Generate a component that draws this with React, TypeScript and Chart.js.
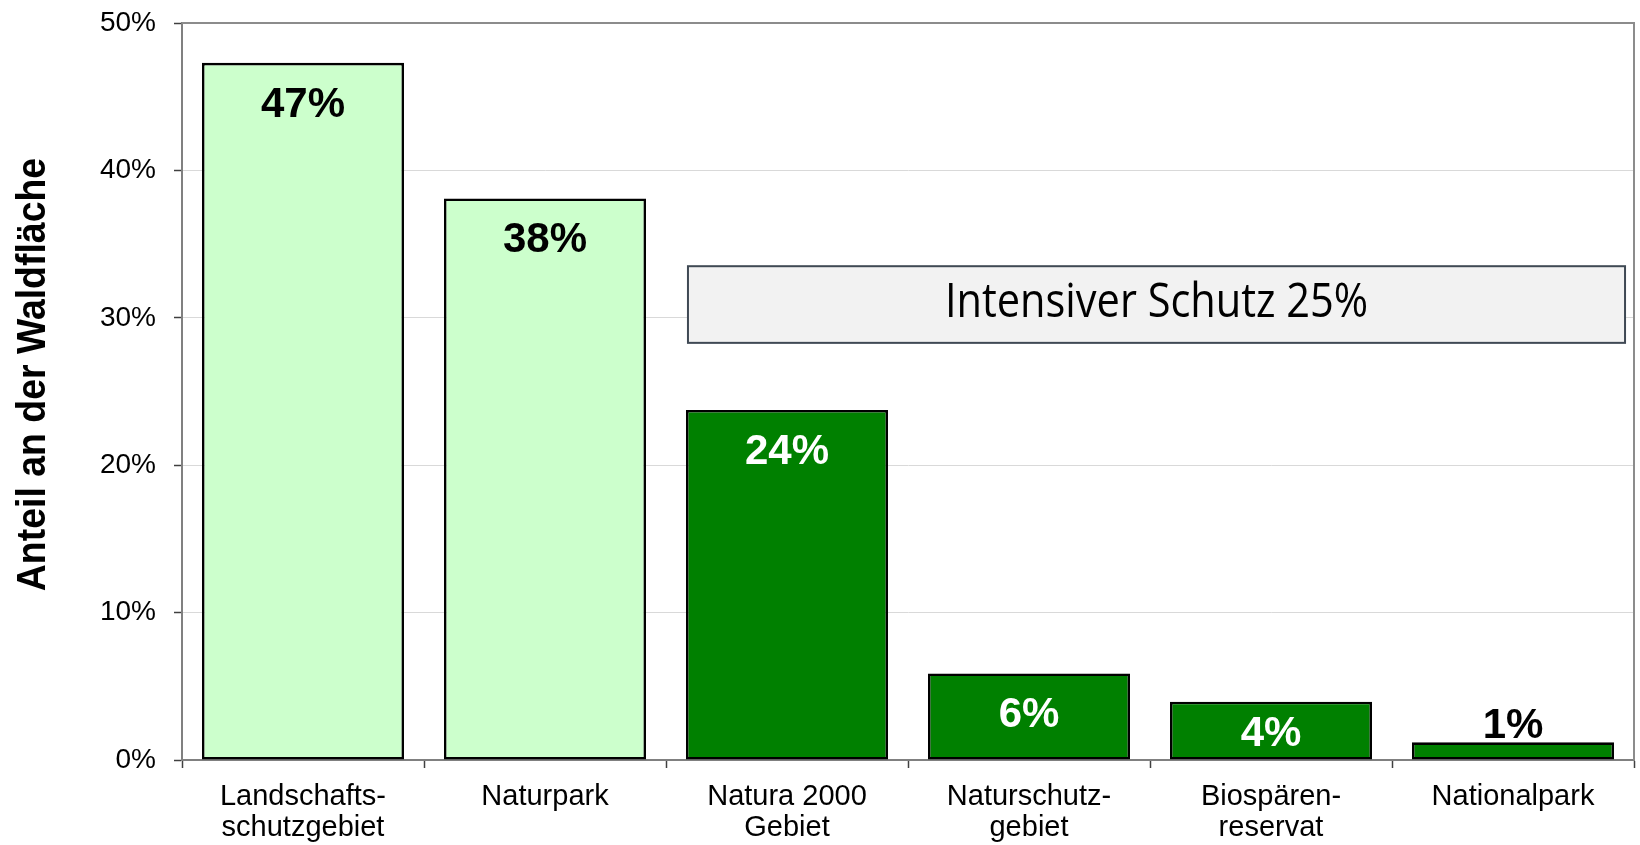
import React, { useEffect, useRef } from "react";
import { Chart, registerables } from "chart.js";

Chart.register(...registerables);

// ---- data ----
const categories: (string | string[])[] = [
  ["Landschafts-", "schutzgebiet"],
  "Naturpark",
  ["Natura 2000", "Gebiet"],
  ["Naturschutz-", "gebiet"],
  ["Biospären-", "reservat"],
  "Nationalpark",
];
const shares: number[] = [47.3, 38.1, 23.75, 5.87, 3.96, 1.2];
const yTicks: number[] = [0, 10, 20, 30, 40, 50];
const yTitle = "Anteil an der Waldfläche";
const boxLabel = "Intensiver Schutz 25%";
// annotation box: spans from category index 2 to the last, between these values
const boxFromIndex = 2;
const boxTopValue = 33.5;
const boxBottomValue = 28.3;

// ---- styles ----
const LIGHT = "#CCFFCC";
const DARK = "#008000";
const barColors = [LIGHT, LIGHT, DARK, DARK, DARK, DARK];
const labelColors = ["#000000", "#000000", "#FFFFFF", "#FFFFFF", "#FFFFFF", "#000000"];
const FONT = "'Liberation Sans', Arial, Helvetica, sans-serif";

const W = 1640;
const H = 845;

const barLabelPlugin = {
  id: "barLabels",
  afterDatasetsDraw(chart: any) {
    const ctx = chart.ctx;
    const meta = chart.getDatasetMeta(0);
    ctx.save();
    ctx.font = `bold 42px ${FONT}`;
    ctx.textAlign = "center";
    ctx.textBaseline = "alphabetic";
    meta.data.forEach((el: any, i: number) => {
      const text = Math.round(shares[i]) + "%";
      const top = el.y;
      const base = el.base;
      const h = base - top;
      if (h < 45) {
        ctx.fillStyle = "#000000";
        ctx.fillText(text, el.x, top - 4);
      } else {
        const center = Math.min(top + 39, (top + base) / 2);
        ctx.fillStyle = labelColors[i];
        ctx.fillText(text, el.x, center + 15);
      }
    });
    ctx.restore();
  },
};

const frameAndBoxPlugin = {
  id: "frameAndBox",
  afterDraw(chart: any) {
    const ctx = chart.ctx;
    const area = chart.chartArea;
    const yScale = chart.scales.y;
    const meta = chart.getDatasetMeta(0);
    ctx.save();
    // plot frame (top & right)
    ctx.strokeStyle = "#8C8C8C";
    ctx.lineWidth = 2;
    ctx.beginPath();
    ctx.moveTo(area.left, area.top);
    ctx.lineTo(area.right, area.top);
    ctx.lineTo(area.right, area.bottom);
    ctx.stroke();

    // annotation box
    const first = meta.data[boxFromIndex];
    const last = meta.data[meta.data.length - 1];
    const left = first.x - first.width / 2 + 2;
    const right = last.x + last.width / 2 + 11;
    const top = yScale.getPixelForValue(boxTopValue);
    const bottom = yScale.getPixelForValue(boxBottomValue);
    ctx.fillStyle = "#F2F2F2";
    ctx.fillRect(left, top, right - left, bottom - top);
    ctx.strokeStyle = "#3F4954";
    ctx.lineWidth = 2;
    ctx.strokeRect(left, top, right - left, bottom - top);

    ctx.save();
    ctx.font = `48px 'Open Sans', 'Noto Sans', sans-serif`;
    ctx.fillStyle = "#000000";
    ctx.textAlign = "center";
    ctx.textBaseline = "alphabetic";
    ctx.translate((left + right) / 2, (top + bottom) / 2 + 12);
    ctx.scale(0.865, 1);
    ctx.fillText(boxLabel, 0, 0);
    ctx.restore();

    // y axis title
    ctx.save();
    ctx.font = `bold 41px ${FONT}`;
    ctx.fillStyle = "#000000";
    ctx.textAlign = "center";
    ctx.textBaseline = "alphabetic";
    ctx.translate(area.left - 137, (area.top + area.bottom) / 2 - 17);
    ctx.rotate(-Math.PI / 2);
    ctx.scale(0.913, 1);
    ctx.fillText(yTitle, 0, 0);
    ctx.restore();

    ctx.restore();
  },
};

export default function App() {
  const canvasRef = useRef<HTMLCanvasElement | null>(null);

  useEffect(() => {
    document.body.style.margin = "0";
    const canvas = canvasRef.current;
    if (!canvas) return;
    const chart = new Chart(canvas, {
      type: "bar",
      data: {
        labels: categories,
        datasets: [
          {
            data: shares,
            backgroundColor: barColors,
            borderColor: "#000000",
            borderWidth: 2.6,
            borderSkipped: false,
            barPercentage: 0.835,
            categoryPercentage: 1,
          },
        ],
      },
      options: {
        responsive: false,
        animation: false,
        devicePixelRatio: 1,
        layout: { padding: { top: 23, right: 6, left: 0, bottom: 0 } },
        plugins: {
          legend: { display: false },
          tooltip: { enabled: false },
        },
        scales: {
          x: {
            offset: true,
            grid: {
              offset: true,
              drawOnChartArea: false,
              drawTicks: true,
              tickLength: 8,
              tickColor: "#404040",
              tickWidth: 1.5,
            },
            border: { color: "#808080", width: 2 },
            ticks: {
              color: "#000000",
              font: { family: FONT, size: 29, lineHeight: 1.06 },
              padding: 14,
              maxRotation: 0,
              autoSkip: false,
            },
            afterFit(scale: any) {
              scale.height = 85;
              scale.paddingLeft = 0;
              scale.paddingRight = 0;
            },
          },
          y: {
            min: 0,
            max: 50,
            afterBuildTicks(scale: any) {
              scale.ticks = yTicks.map((v) => ({ value: v }));
            },
            grid: {
              color: "#D9D9D9",
              lineWidth: 1,
              drawTicks: true,
              tickLength: 8,
              tickColor: "#404040",
              tickWidth: 1.5,
            },
            border: { color: "#808080", width: 2 },
            ticks: {
              color: "#000000",
              font: { family: FONT, size: 28 },
              padding: 18,
              callback: (v: any) => v + "%",
            },
            afterFit(scale: any) {
              scale.width = 182;
              scale.paddingTop = 0;
              scale.paddingBottom = 0;
            },
          },
        },
      },
      plugins: [barLabelPlugin, frameAndBoxPlugin],
    });
    return () => chart.destroy();
  }, []);

  return (
    <div style={{ width: W, height: H, background: "#FFFFFF" }}>
      <canvas ref={canvasRef} width={W} height={H} style={{ display: "block" }} />
    </div>
  );
}
